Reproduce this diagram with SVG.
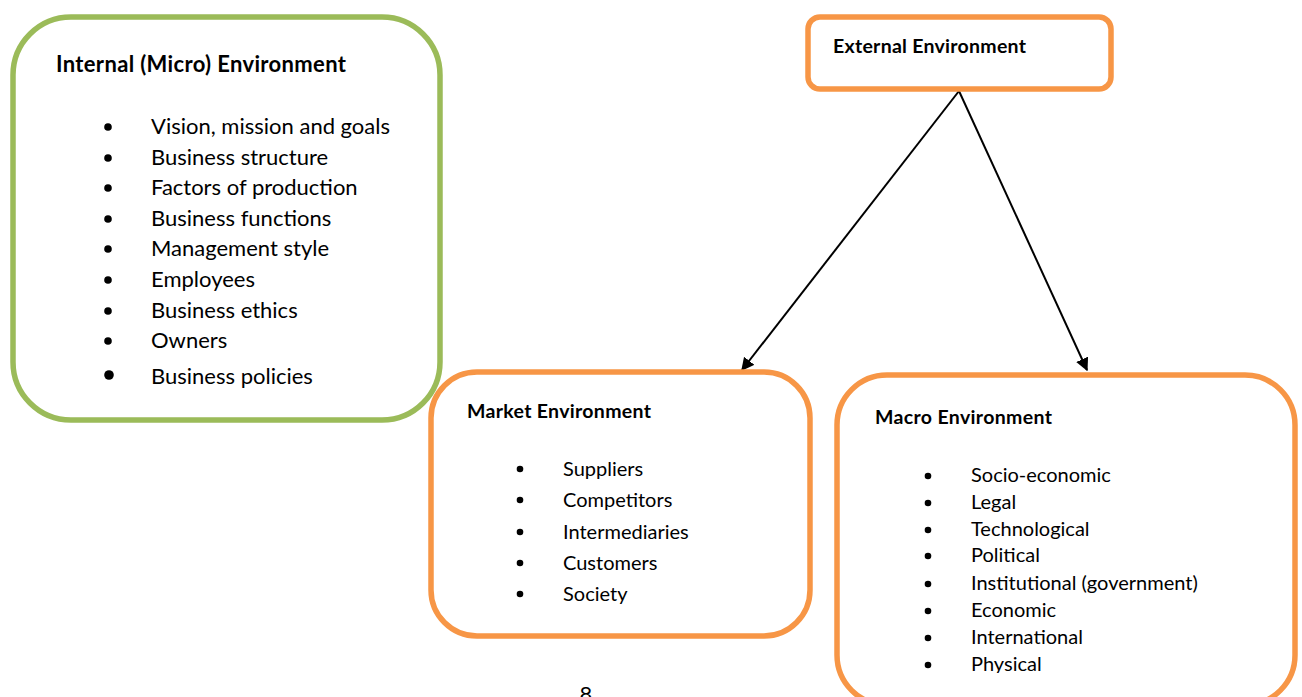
<svg xmlns="http://www.w3.org/2000/svg" width="1302" height="697" viewBox="0 0 1302 697">
<style>
.box{fill:#fff;stroke-width:5.5}
.g{stroke:#9BBB59}
.o{stroke:#F79646}
.t{font-family:Lato,"Open Sans","Liberation Sans",sans-serif;font-weight:bold;fill:#000}
.i{font-family:Lato,"Open Sans","Liberation Sans",sans-serif;fill:#000}
.b{fill:#000}
.c{stroke:#000;stroke-width:2;fill:none}
</style>
<defs>
<marker id="ah" viewBox="0 0 10 10" refX="9" refY="5" markerWidth="6.5" markerHeight="6.5" orient="auto" markerUnits="strokeWidth">
<path d="M0,0 L10,5 L0,10 z" fill="#000"/>
</marker>
<clipPath id="mc"><rect x="837" y="375" width="458" height="298"/></clipPath>
</defs>
<rect width="1302" height="697" fill="#fff"/>
<g id="connectors">
<line class="c" x1="959" y1="91" x2="742" y2="370" marker-end="url(#ah)"/>
<line class="c" x1="959" y1="91" x2="1087" y2="370" marker-end="url(#ah)"/>
</g>
<g id="internal">
<rect class="box g" x="13" y="17" width="427" height="403" rx="58"/>
<text class="t" x="56" y="72" font-size="22" textLength="290">Internal (Micro) Environment</text>
<g class="b">
<circle cx="108" cy="127" r="3.8"/><circle cx="108" cy="158" r="3.8"/><circle cx="108" cy="188" r="3.8"/>
<circle cx="108" cy="219" r="3.8"/><circle cx="108" cy="249" r="3.8"/><circle cx="108" cy="280" r="3.8"/>
<circle cx="108" cy="311" r="3.8"/><circle cx="108" cy="341" r="3.8"/><circle cx="109" cy="375" r="4.8"/>
</g>
<g class="i" font-size="22">
<text x="151" y="134">Vision, mission and goals</text>
<text x="151" y="165">Business structure</text>
<text x="151" y="195">Factors of production</text>
<text x="151" y="226">Business functions</text>
<text x="151" y="256">Management style</text>
<text x="151" y="287">Employees</text>
<text x="151" y="318">Business ethics</text>
<text x="151" y="348">Owners</text>
<text x="151" y="384">Business policies</text>
</g>
</g>
<g id="external">
<rect class="box o" x="808" y="17" width="303" height="72" rx="12"/>
<text class="t" x="833" y="53" font-size="19.5" textLength="193">External Environment</text>
</g>
<g id="market">
<rect class="box o" x="431" y="372" width="379" height="264" rx="46"/>
<text class="t" x="467" y="418" font-size="19.5" textLength="184">Market Environment</text>
<g class="b">
<circle cx="520" cy="469" r="3.3"/><circle cx="520" cy="500" r="3.3"/><circle cx="520" cy="532" r="3.3"/>
<circle cx="520" cy="563" r="3.3"/><circle cx="520" cy="594" r="3.3"/>
</g>
<g class="i" font-size="20">
<text x="563" y="476">Suppliers</text>
<text x="563" y="507">Competitors</text>
<text x="563" y="539">Intermediaries</text>
<text x="563" y="570">Customers</text>
<text x="563" y="601">Society</text>
</g>
</g>
<g id="macro">
<rect class="box o" x="837" y="375" width="458" height="330" rx="50"/>
<text class="t" x="875" y="424" font-size="19.5" textLength="177">Macro Environment</text>
<g class="b">
<circle cx="928" cy="476" r="3.3"/><circle cx="928" cy="503" r="3.3"/><circle cx="928" cy="530" r="3.3"/>
<circle cx="928" cy="556" r="3.3"/><circle cx="928" cy="584" r="3.3"/><circle cx="928" cy="611" r="3.3"/>
<circle cx="928" cy="638" r="3.3"/><circle cx="928" cy="665" r="3.3"/>
</g>
<g class="i" font-size="20" clip-path="url(#mc)">
<text x="971" y="482">Socio-economic</text>
<text x="971" y="509">Legal</text>
<text x="971" y="536">Technological</text>
<text x="971" y="562">Political</text>
<text x="971" y="590">Institutional (government)</text>
<text x="971" y="617">Economic</text>
<text x="971" y="644">International</text>
<text x="971" y="671">Physical</text>
</g>
</g>
<text class="i" x="586" y="702" font-size="22" text-anchor="middle">8</text>
</svg>
